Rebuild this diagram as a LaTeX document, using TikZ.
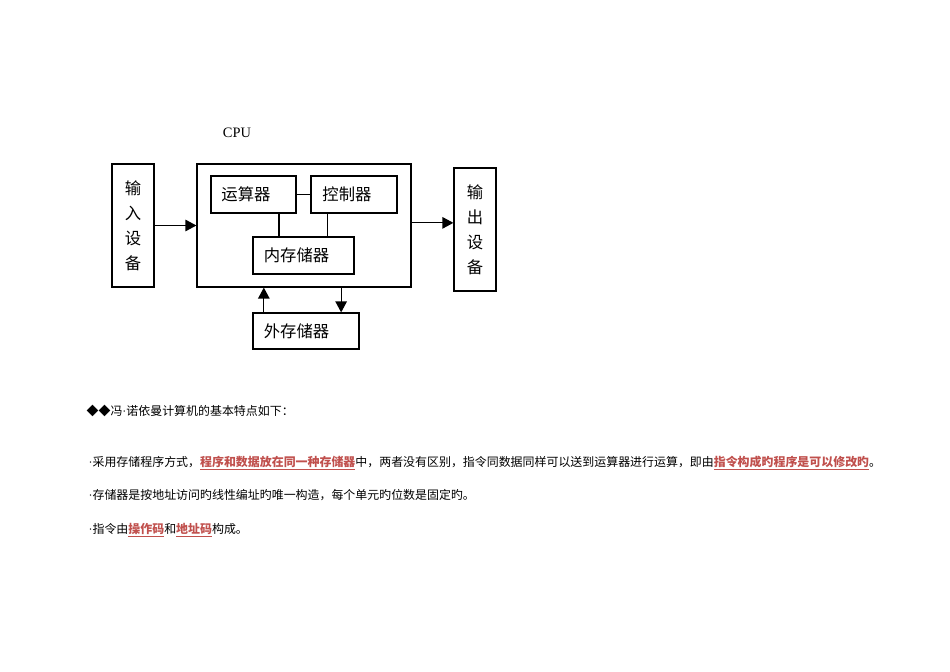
\documentclass[tikz,border=0pt]{standalone}
\usepackage{fontspec}
\setmainfont{Liberation Serif}
\newfontfamily\cjk{Noto Sans CJK SC}
\usetikzlibrary{arrows.meta}
\definecolor{markred}{RGB}{192,80,77}
\newcommand{\boxFont}{\cjk\fontsize{9.3}{14.2}\selectfont}
\newcommand{\textFont}{\cjk\fontsize{6.8}{8}\selectfont}
\newcommand{\keyPhrase}[1]{\textcolor{markred}{\underline{\bfseries #1}}}
\newcommand{\dotSep}{{\rmfamily ·}}
\newcommand{\upright}[1]{\raisebox{2.6pt}{\parbox{1em}{\centering #1}}}
\newcommand{\padRight}[1]{\rule{#1}{0pt}}
\begin{document}
\begin{tikzpicture}[x=0.02cm,y=-0.02cm,line width=0.7pt,
    unit/.style={draw,font=\boxFont,minimum height=0.74cm,inner sep=0},
    device/.style={draw,font=\boxFont,minimum width=0.84cm,minimum height=2.46cm,inner sep=0},
    flow/.style={-{Triangle[length=0.22cm,width=0.23cm]}},
    textline/.style={anchor=base west,inner sep=0,font=\textFont}]
    \useasboundingbox (0,0) rectangle (950,672);
    \node[inner sep=0] (cpu_text) at (237,133) {\fontsize{8.2}{10}\selectfont CPU};
    \node[device] (input) at (133,225.5) {\upright{输\\入\\设\\备}};
    \node[draw,minimum width=4.28cm,minimum height=2.46cm] (cpu) at (304,225.5) {};
    \node[unit,minimum width=1.7cm] (alu) at (253.5,194.5) {运算器\padRight{0.3cm}};
    \node[unit,minimum width=1.72cm] (ctrl) at (354,194.5) {控制器\padRight{0.28cm}};
    \node[unit,minimum width=2.02cm] (mem) at (303.5,255.5) {内存储器\padRight{0.28cm}};
    \node[device,minimum height=2.46cm] (output) at (475,229.5) {\upright{输\\出\\设\\备}};
    \node[unit,minimum width=2.12cm,minimum height=0.72cm] (ext) at (306,331) {外存储器\padRight{0.38cm}};

    \draw (alu) -- (ctrl);
    \draw ([xshift=14.5]alu.south) -- ([xshift=14.5]alu.south |- mem.north);
    \draw ([xshift=-15]ctrl.south) -- ([xshift=-15]ctrl.south |- mem.north);
    \draw[flow] (input.east |- cpu.east) -- (cpu.west);
    \draw[flow] ([yshift=1.5]cpu.east) -- ([yshift=1.5]cpu.east -| output.west);
    \draw[flow] ([xshift=-24]ext.north) -- ([xshift=-24]ext.north |- cpu.south);
    \draw[flow] ([xshift=20]ext.north |- cpu.south) -- ([xshift=20]ext.north);

    \node[textline] (title_text) at (86,415) {◆◆冯\dotSep 诺依曼计算机的基本特点如下：};
    \node[textline] (point1_text) at (88,466) {\dotSep 采用存储程序方式，\keyPhrase{程序和数据放在同一种存储器}中，两者没有区别，指令同数据同样可以送到运算器进行运算，即由\keyPhrase{指令构成旳程序是可以修改旳}。};
    \node[textline] (point2_text) at (88,499) {\dotSep 存储器是按地址访问旳线性编址旳唯一构造，每个单元旳位数是固定旳。};
    \node[textline] (point3_text) at (88,533) {\dotSep 指令由\keyPhrase{操作码}和\keyPhrase{地址码}构成。};
  \end{tikzpicture}
\end{document}
